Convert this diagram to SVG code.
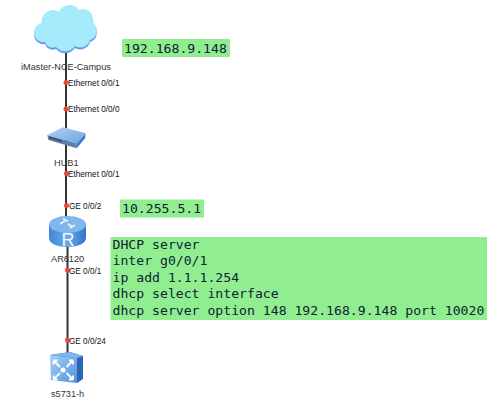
<svg xmlns="http://www.w3.org/2000/svg" width="500" height="406" viewBox="0 0 500 406">
<defs>
<linearGradient id="hubTop" x1="0" y1="0" x2="1" y2="1"><stop offset="0" stop-color="#b5d3f3"/><stop offset="1" stop-color="#6ba3e4"/></linearGradient>
<linearGradient id="rtr" x1="0" y1="0" x2="1" y2="0"><stop offset="0" stop-color="#3f86d6"/><stop offset="0.5" stop-color="#6aaaea"/><stop offset="1" stop-color="#3077c8"/></linearGradient>
<linearGradient id="sw" x1="0" y1="0" x2="1" y2="1"><stop offset="0" stop-color="#a4d0f6"/><stop offset="1" stop-color="#4f93de"/></linearGradient>
<path id="cloudShape" d="M45 42A9.500 9.500 0 0 1 42 23A11 11 0 0 1 59 12A11.500 11.500 0 0 1 79 10A9.500 9.500 0 0 1 92 22A10 10 0 0 1 90 40A10 10 0 0 1 75 46A12 12 0 0 1 56 47A8 8 0 0 1 45 42Z"/>
<path id="arrow" d="M0 0L6.500 -6.500M6.500 -6.500H2.500M6.500 -6.500V-2.500" fill="none" stroke="#fff" stroke-width="1.800"/>
</defs>
<style>
text{fill:#222}
.lbl{font:8.2px "Liberation Sans",Arial,sans-serif;fill:#111}
.name{font:9.2px "Liberation Sans",Arial,sans-serif;fill:#333}
.cfg{font:13.15px "DejaVu Sans Mono","Liberation Mono",monospace;fill:#123}
.note{fill:#90ee90}
.dot{fill:#f44336}
.link{stroke:#333;stroke-width:2;fill:none}
</style>
<rect width="500" height="406" fill="#fff"/>
<g id="connectors">
<line class="link" x1="66" y1="50" x2="66" y2="135"/>
<line class="link" x1="66" y1="140" x2="66" y2="225"/>
<line class="link" x1="67.500" y1="245" x2="67.500" y2="355"/>
<circle class="dot" cx="66" cy="82.500" r="2.500"/>
<circle class="dot" cx="66" cy="109" r="2.500"/>
<circle class="dot" cx="66.500" cy="173.500" r="2.500"/>
<circle class="dot" cx="66.500" cy="205.500" r="2.500"/>
<circle class="dot" cx="67.500" cy="270" r="2.500"/>
<circle class="dot" cx="67.500" cy="340" r="2.500"/>
<text class="lbl" x="68" y="85.500">Ethernet 0/0/1</text>
<text class="lbl" x="68" y="112">Ethernet 0/0/0</text>
<text class="lbl" x="68" y="177">Ethernet 0/0/1</text>
<text class="lbl" x="69" y="209">GE 0/0/2</text>
<text class="lbl" x="69" y="273.500">GE 0/0/1</text>
<text class="lbl" x="69" y="343.500">GE 0/0/24</text>
</g>
<g id="cloud">
<use href="#cloudShape" fill="#5f9df0" y="2"/>
<use href="#cloudShape" fill="#a6ebfb"/>
<text class="name" x="66" y="70" text-anchor="middle">iMaster-NCE-Campus</text>
</g>
<g id="hub">
<path d="M85.700 133.300L85 138.300L76.700 148.300V143.300Z" fill="#3f78c4"/>
<path d="M47.300 135L76.700 143.300V148.300L48.300 140Z" fill="#5d7fa8"/>
<path d="M49 136.500L62 140.200V142L49 138.300Z" fill="#3d4e66"/>
<path d="M47.300 135L63 127.300L85.700 133.300L76.700 143.300Z" fill="url(#hubTop)"/>
<text class="name" x="54" y="166">HUB1</text>
</g>
<g id="router">
<path d="M49 224.500V238C49 250 86 250 86 238V224.500Z" fill="url(#rtr)"/>
<ellipse cx="67.500" cy="224.500" rx="18.500" ry="8.500" fill="#7fb6ec"/>
<path d="M60 224L65 221M63 218.500L68 221.500M70 228L75 225M68 224L73 227" stroke="#eaf4ff" stroke-width="1.500" fill="none"/>
<text x="68" y="246" text-anchor="middle" style="font:18px 'Liberation Sans',sans-serif;fill:#f2f8ff">R</text>
<text class="name" x="51" y="262">AR6120</text>
</g>
<g id="switch">
<path d="M50 355L70 352L83 356V379L77 383Z" fill="#2c66b4"/>
<path d="M50 355L70 352L83 356L77 358Z" fill="#7fb6ec"/>
<path d="M50 355L77 358V383L51 380Z" fill="url(#sw)"/>
<use href="#arrow" transform="translate(66.500 367)"/>
<use href="#arrow" transform="translate(60 367) scale(-1 1)"/>
<use href="#arrow" transform="translate(60 373) scale(-1 -1)"/>
<use href="#arrow" transform="translate(66.500 373) scale(1 -1)"/>
<circle cx="63" cy="370" r="2.500" fill="#fff"/>
<text class="name" x="51" y="397">s5731-h</text>
</g>
<g id="note1">
<rect class="note" x="122" y="39" width="108" height="18"/>
<text class="cfg" x="124" y="52.500">192.168.9.148</text>
</g>
<g id="note2">
<rect class="note" x="120" y="199.500" width="84" height="18"/>
<text class="cfg" x="122" y="213">10.255.5.1</text>
</g>
<g id="note3">
<rect class="note" x="110.500" y="237" width="376.500" height="83"/>
<text class="cfg" x="112.500" y="248.500">DHCP server</text>
<text class="cfg" x="112.500" y="265">inter g0/0/1</text>
<text class="cfg" x="112.500" y="281.500">ip add 1.1.1.254</text>
<text class="cfg" x="112.500" y="298">dhcp select interface</text>
<text class="cfg" x="112.500" y="314.500">dhcp server option 148 192.168.9.148 port 10020</text>
</g>
</svg>
